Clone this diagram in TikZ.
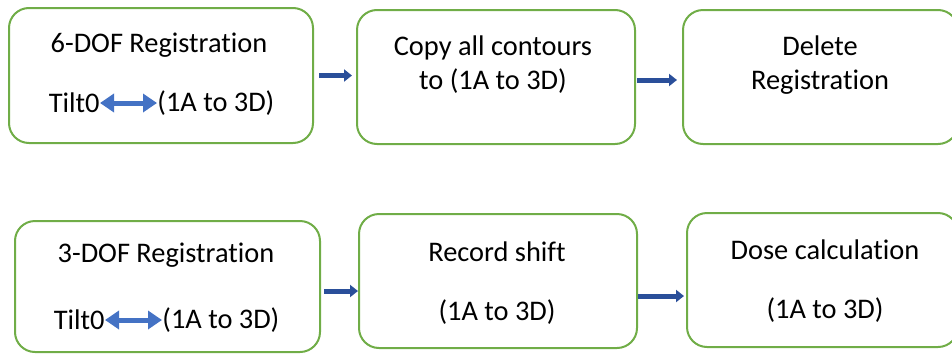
\documentclass[tikz,border=0pt]{standalone}
\usepackage{fontspec}
\setmainfont[Ligatures=NoCommon]{Carlito}
\usetikzlibrary{arrows.meta}

\definecolor{boxgreen}{HTML}{70AD47}
\definecolor{flowblue}{HTML}{2A4F9A}
\definecolor{tiltblue}{HTML}{4472C4}

\tikzset{
  stepbox/.style={draw=boxgreen, line width=1pt, rounded corners=10pt, inner sep=0pt},
  flow/.style={draw=flowblue, line width=2.5pt, -{Triangle[length=4pt,width=6pt]}},
  tilt/.style={draw=tiltblue, line width=2.5pt, {Triangle[length=7pt,width=9pt]}-{Triangle[length=7pt,width=9pt]}},
  lbl/.style={font=\fontsize{14.2pt}{17pt}\selectfont, inner sep=0pt, align=center}
}

\begin{document}
\begin{tikzpicture}[x=0.5pt, y=-0.5pt]
      \clip (0,0) rectangle (952,354);
      \begin{scope}
        \node[stepbox, minimum width=152pt, minimum height=67.5pt] (b1) at (161,75.5) {};
        \node[stepbox, minimum width=139pt, minimum height=67pt] (b2) at (496,77) {};
        \node[stepbox, minimum width=137.5pt, minimum height=67pt] (b3) at (820.5,77) {};

        \node[lbl] (h1) at (159,45) {6-DOF Registration};
        \node[lbl, anchor=east] (t1) at (100,103) {Tilt0};
        \node[lbl, anchor=west] (r1) at (157,103) {(1A to 3D)};
        \draw[tilt] (t1.east) -- (r1.west);

        \node[lbl] (c2) at (493,65) {Copy all contours\\to (1A to 3D)};
        \node[lbl] (c3) at (820,65) {Delete\\Registration};

        \draw[flow, shorten <=2.5pt, shorten >=2pt] (b1.east) -- (b1.east -| b2.west);
        \draw[flow, shorten <=0.5pt, shorten >=2.5pt] ([yshift=-1.5pt]b2.east) -- ([yshift=-1.5pt]b2.east -| b3.west);
      \end{scope}
      \begin{scope}
        \node[stepbox, minimum width=152.5pt, minimum height=65.5pt] (b4) at (167.5,286.5) {};
        \node[stepbox, minimum width=139pt, minimum height=67pt] (b5) at (498,281) {};
        \node[stepbox, minimum width=135.5pt, minimum height=67pt] (b6) at (822.5,280) {};

        \node[lbl] (h4) at (166,255) {3-DOF Registration};
        \node[lbl, anchor=east] (t4) at (105,320) {Tilt0};
        \node[lbl, anchor=west] (r4) at (162,320) {(1A to 3D)};
        \draw[tilt] (t4.east) -- (r4.west);

        \node[lbl] (c5) at (497,252) {Record shift};
        \node[lbl] (d5) at (497,312) {(1A to 3D)};
        \node[lbl] (c6) at (825,250) {Dose calculation};
        \node[lbl] (d6) at (825,310) {(1A to 3D)};

        \draw[flow, shorten <=1.5pt] ([yshift=-2.25pt]b4.east) -- ([yshift=-2.25pt]b4.east -| b5.west);
        \draw[flow, shorten >=1pt] ([yshift=-7.5pt]b5.east) -- ([yshift=-7.5pt]b5.east -| b6.west);
      \end{scope}
\end{tikzpicture}
\end{document}
